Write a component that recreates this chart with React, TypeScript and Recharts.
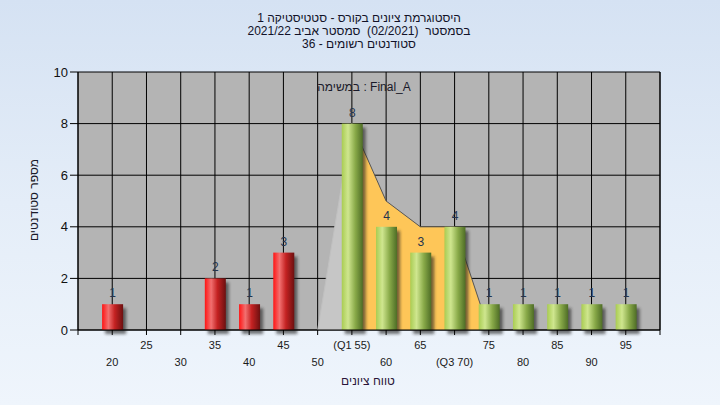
import React from 'react';
import {
  ComposedChart,
  Bar,
  Area,
  XAxis,
  YAxis,
  CartesianGrid,
  LabelList,
} from 'recharts';

// ---- data ----
const scores = [20, 25, 30, 35, 40, 45, 50, 55, 60, 65, 70, 75, 80, 85, 90, 95];
const counts: (number | null)[] = [1, null, null, 2, 1, 3, null, 8, 4, 3, 4, 1, 1, 1, 1, 1];
const passThreshold = 50;
const greyBand: (number | null)[] = [null, null, null, null, null, null, 0, 8, null, null, null, null, null, null, null, null];
const orangeBand: (number | null)[] = [null, null, null, null, null, null, null, 8, 5, 4, 4, 0, null, null, null, null];

const xTicks = [15, 20, 25, 30, 35, 40, 45, 50, 55, 60, 65, 70, 75, 80, 85, 90, 95, 100];
const xTickLabels: Record<number, string> = {
  20: '20', 25: '25', 30: '30', 35: '35', 40: '40', 45: '45', 50: '50',
  55: '(Q1 55)', 60: '60', 65: '65', 70: '(Q3 70)', 75: '75', 80: '80',
  85: '85', 90: '90', 95: '95',
};
const upperRowTicks = [25, 35, 45, 55, 65, 75, 85, 95];
const yTicks = [0, 2, 4, 6, 8, 10];

const titleLines = [
  'היסטוגרמת ציונים בקורס - סטטיסטיקה 1',
  'בסמסטר  (02/2021)  סמסטר אביב 2021/22',
  'סטודנטים רשומים - 36',
];
const yTitle = 'מספר סטודנטים';
const xTitle = 'טווח ציונים';
const noteText = 'במשימה : Final_A';

const data = scores.map((s, i) => ({
  score: s,
  count: counts[i],
  grey: greyBand[i],
  orange: orangeBand[i],
}));

const FONT = '"Liberation Sans", "DejaVu Sans", Arial, sans-serif';

const XTick = (props: any) => {
  const { x, y, payload } = props;
  const v = payload.value;
  const label = xTickLabels[v];
  if (!label) return null;
  const upper = upperRowTicks.includes(v);
  return (
    <text
      x={x}
      y={y + (upper ? 14 : 31)}
      textAnchor="middle"
      fontSize={11}
      fontFamily={FONT}
      fill="#1a1a1a"
    >
      {label}
    </text>
  );
};

const BarShape = (props: any) => {
  const { x, y, width, height, payload } = props;
  if (!height || height <= 0) return null;
  const fail = payload.score < passThreshold;
  return (
    <g>
      <rect
        x={x + 3}
        y={y + 4}
        width={width}
        height={height}
        fill="#1e1e1e"
        opacity={0.6}
        filter="url(#barShadow)"
      />
      <rect x={x} y={y} width={width} height={height} fill={fail ? 'url(#gradRed)' : 'url(#gradGreen)'} />
    </g>
  );
};

const ValueLabel = (props: any) => {
  const { x, y, width, value } = props;
  if (value === null || value === undefined) return null;
  return (
    <text
      x={x + width / 2}
      y={y - 7}
      textAnchor="middle"
      fontSize={12}
      fontFamily={FONT}
      fill="#24344e"
    >
      {value}
    </text>
  );
};

export default function App() {
  return (
    <div
      style={{
        position: 'absolute',
        left: 0,
        top: 0,
        width: 720,
        height: 405,
        background: 'linear-gradient(to bottom, #d5e2f3 0%, #e4edf8 50%, #eff5fc 100%)',
        fontFamily: FONT,
        overflow: 'hidden',
      }}
    >
      <svg width={0} height={0} style={{ position: 'absolute' }}>
        <defs>
          <linearGradient id="gradRed" x1="0" y1="0" x2="1" y2="0">
            <stop offset="0" stopColor="#ff1414" />
            <stop offset="0.3" stopColor="#f27070" />
            <stop offset="0.6" stopColor="#c42222" />
            <stop offset="1" stopColor="#6c1010" />
          </linearGradient>
          <linearGradient id="gradGreen" x1="0" y1="0" x2="1" y2="0">
            <stop offset="0" stopColor="#a9cc52" />
            <stop offset="0.3" stopColor="#cfe68f" />
            <stop offset="0.65" stopColor="#88a948" />
            <stop offset="1" stopColor="#4e6d26" />
          </linearGradient>
          <filter id="barShadow" x="-50%" y="-20%" width="200%" height="140%">
            <feGaussianBlur stdDeviation="1.6" />
          </filter>
        </defs>
      </svg>
      <ComposedChart
        width={720}
        height={405}
        data={data}
        margin={{ top: 72, right: 0, bottom: 0, left: 0 }}
      >
        <CartesianGrid stroke="#000" strokeWidth={1} fill="#b4b4b4" fillOpacity={1} />
        <XAxis
          dataKey="score"
          type="number"
          domain={[15, 100]}
          ticks={xTicks}
          interval={0}
          allowDataOverflow
          height={75}
          tickSize={5}
          tickMargin={0}
          stroke="#000"
          tick={<XTick />}
        />
        <YAxis
          domain={[0, 10]}
          ticks={yTicks}
          interval={0}
          width={78}
          tickSize={8}
          tickMargin={2}
          stroke="#000"
          tick={{ fill: '#111', fontSize: 13, fontFamily: FONT }}
        />
        <YAxis
          yAxisId="right"
          orientation="right"
          domain={[0, 10]}
          ticks={yTicks}
          interval={0}
          width={60}
          tickSize={6}
          tickMargin={2}
          stroke="#000"
          tick={{ fill: '#111', fontSize: 13, fontFamily: FONT }}
        />
        <Area
          dataKey="grey"
          type="linear"
          fill="#c6c6c6"
          fillOpacity={1}
          stroke="#c0c0c0"
          strokeWidth={1}
          isAnimationActive={false}
          dot={false}
          activeDot={false}
        />
        <Area
          dataKey="orange"
          type="linear"
          fill="#fec658"
          fillOpacity={1}
          stroke="#555"
          strokeWidth={1}
          isAnimationActive={false}
          dot={false}
          activeDot={false}
        />
        <Bar dataKey="count" barSize={21} shape={<BarShape />} isAnimationActive={false}>
          <LabelList dataKey="count" content={<ValueLabel />} />
        </Bar>
      </ComposedChart>
      <svg
        width={720}
        height={405}
        style={{ position: 'absolute', left: 0, top: 0, pointerEvents: 'none' }}
      >
        {titleLines.map((t, i) => (
          <text
            key={i}
            x={359}
            y={22 + i * 13}
            textAnchor="middle"
            fontSize={12}
            fontFamily={FONT}
            fill="#121228"
            style={{ whiteSpace: 'pre' }}
          >
            {t}
          </text>
        ))}
        <text x={364} y={91} textAnchor="middle" fontSize={12} fontFamily={FONT} fill="#1a1a2a">
          {noteText}
        </text>
        <text
          x={0}
          y={0}
          transform="translate(38,200) rotate(-90)"
          textAnchor="middle"
          fontSize={12}
          fontFamily={FONT}
          fill="#1a1a2a"
        >
          {yTitle}
        </text>
        <text x={368} y={385} textAnchor="middle" fontSize={12} fontFamily={FONT} fill="#2a1438">
          {xTitle}
        </text>
      </svg>
    </div>
  );
}
